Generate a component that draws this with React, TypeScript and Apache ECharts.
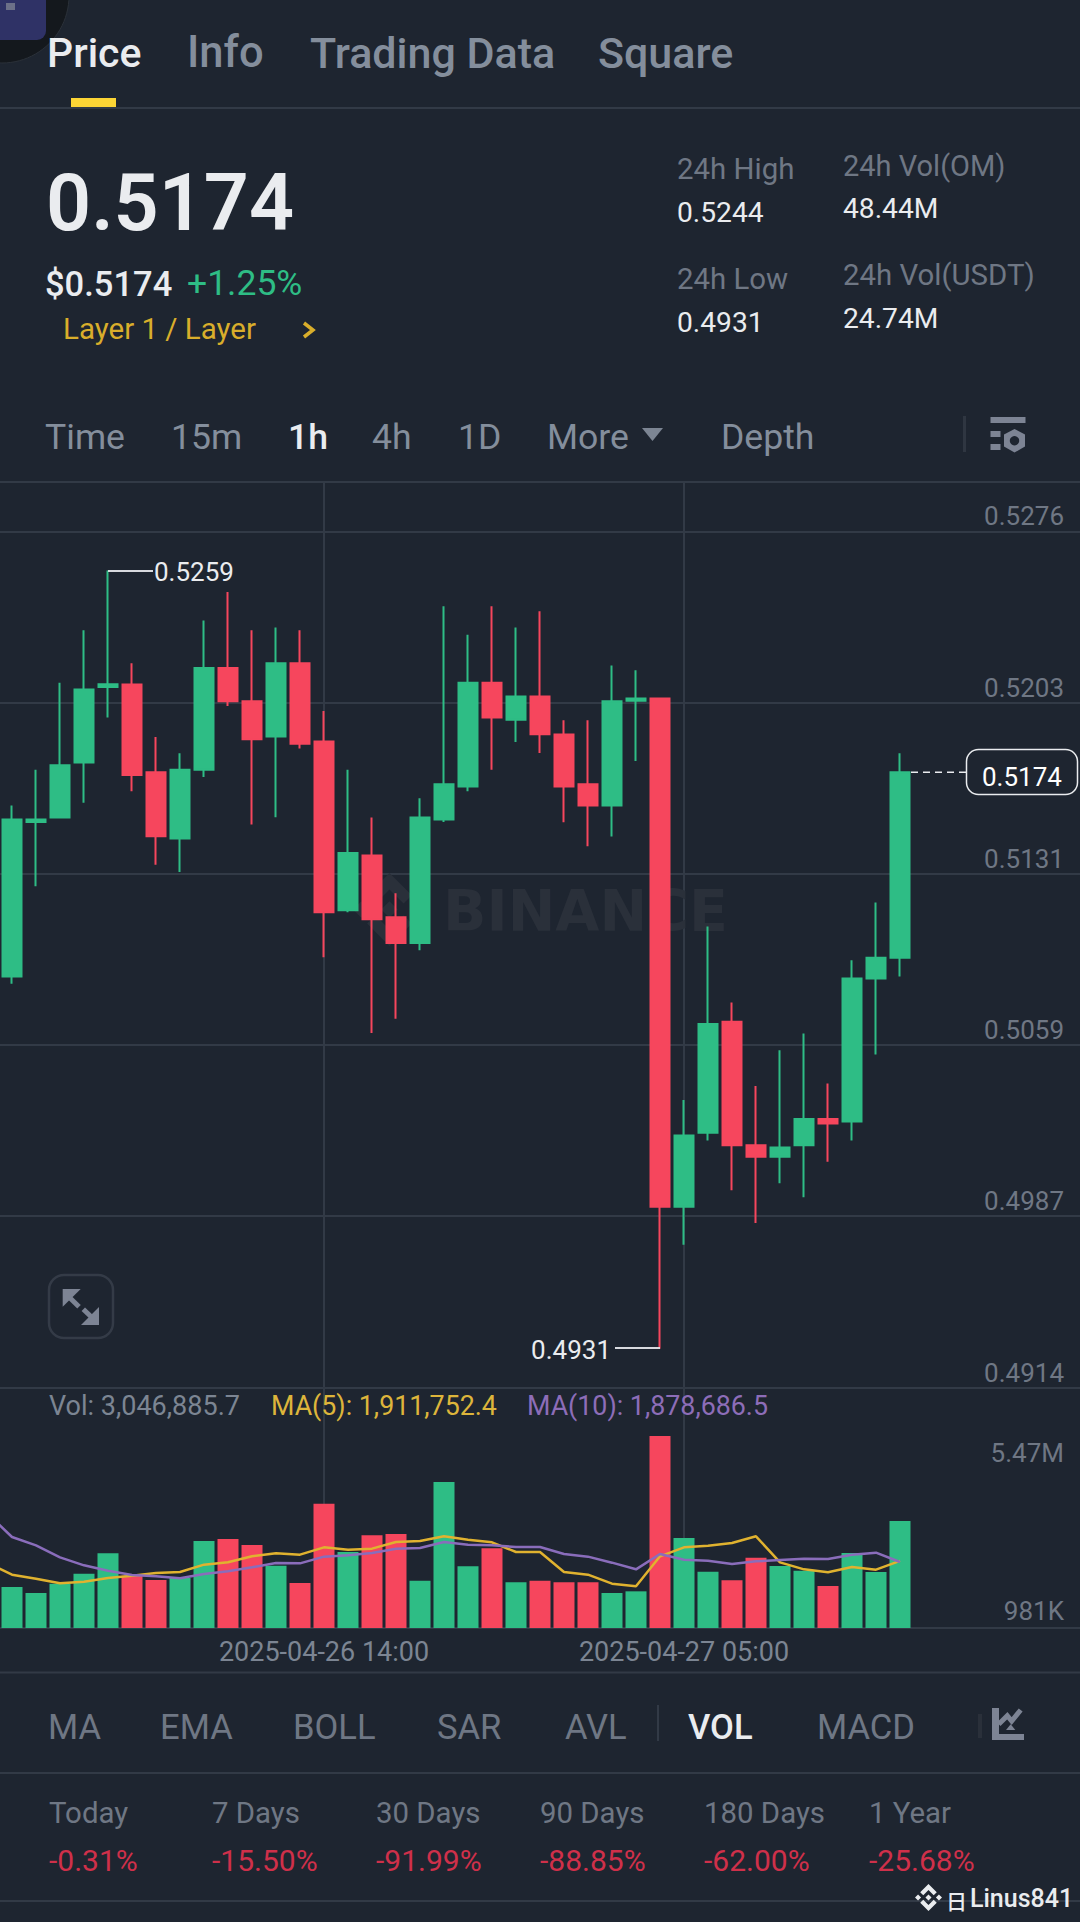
import React, { useEffect, useRef } from "react";
import * as echarts from "echarts";

const categories = [
  "2025-04-26 00:00","2025-04-26 01:00","2025-04-26 02:00","2025-04-26 03:00","2025-04-26 04:00","2025-04-26 05:00",
  "2025-04-26 06:00","2025-04-26 07:00","2025-04-26 08:00","2025-04-26 09:00","2025-04-26 10:00","2025-04-26 11:00",
  "2025-04-26 12:00","2025-04-26 13:00","2025-04-26 14:00","2025-04-26 15:00","2025-04-26 16:00","2025-04-26 17:00",
  "2025-04-26 18:00","2025-04-26 19:00","2025-04-26 20:00","2025-04-26 21:00","2025-04-26 22:00","2025-04-26 23:00",
  "2025-04-27 00:00","2025-04-27 01:00","2025-04-27 02:00","2025-04-27 03:00","2025-04-27 04:00","2025-04-27 05:00",
  "2025-04-27 06:00","2025-04-27 07:00","2025-04-27 08:00","2025-04-27 09:00","2025-04-27 10:00","2025-04-27 11:00",
  "2025-04-27 12:00","2025-04-27 13:00","2025-04-27 14:00","2025-04-27 15:00","2025-04-27 16:00","2025-04-27 17:00",
  "2025-04-27 18:00","2025-04-27 19:00","2025-04-27 20:00","2025-04-27 21:00",
];
const labelledTimes = ["2025-04-26 14:00", "2025-04-27 05:00"];

const opens = [0.50878,0.5153,0.51549,0.51781,0.521,0.52111,0.5174,0.51461,0.51751,0.5218,0.5204,0.51891,0.522,0.5187,0.51158,0.51389,0.51128,0.51019,0.51541,0.5168,0.52118,0.51962,0.5206,0.519,0.5169,0.516,0.52042,0.52052,0.49906,0.50218,0.50687,0.50166,0.50117,0.50166,0.50276,0.50266,0.50869,0.50957];
const closes = [0.51541,0.51541,0.5177,0.5209,0.52112,0.51729,0.5147,0.51751,0.5218,0.5204,0.5188,0.522,0.51861,0.51149,0.51399,0.5112,0.51019,0.51549,0.5169,0.52118,0.51971,0.5206,0.51901,0.5168,0.516,0.5204,0.52052,0.49906,0.50207,0.50677,0.50166,0.50117,0.50156,0.50276,0.50257,0.50869,0.50957,0.5174];
const lows = [0.50847,0.51259,0.51549,0.51612,0.51971,0.5166,0.5135,0.51319,0.5172,0.5202,0.5152,0.5155,0.51841,0.50959,0.51149,0.50639,0.507,0.50989,0.5153,0.5166,0.51751,0.51868,0.51821,0.51529,0.51428,0.51469,0.51788,0.49306,0.49745,0.50186,0.49976,0.49837,0.50005,0.49946,0.50096,0.50186,0.50549,0.50878];
const highs = [0.516,0.51751,0.52118,0.5234,0.52592,0.522,0.51889,0.5182,0.52381,0.52501,0.5234,0.52351,0.5234,0.51999,0.51751,0.51549,0.51229,0.5163,0.52441,0.52321,0.52441,0.52351,0.5242,0.5196,0.5196,0.52191,0.52171,0.52052,0.50357,0.51089,0.50768,0.50416,0.50567,0.50637,0.50426,0.50947,0.5119,0.5182];
const volumes = [1167600,996800,1262600,1547400,2126400,1490400,1367000,1424000,2477700,2534600,2363800,1775200,1281600,3540900,2164400,2639100,2677000,1348000,4157900,1756200,2268800,1300500,1348000,1300500,1300500,996800,1044200,5470000,2563100,1604300,1357500,2003000,1765700,1632800,1196100,2135900,1594800,3046885.7];
const ma5 = [1851100,1518900,1405000,1272100,1319500,1424000,1490400,1566300,1594800,1803700,1870100,2041000,2126400,2088500,2297300,2230900,2259300,2449200,2477700,2610600,2515600,2439700,2164400,2164400,1594800,1518900,1262600,1186600,2041000,2297300,2344800,2420700,2610600,1870100,1670800,1585300,1737200,1661300,1911752.4];
const ma10 = [3246600,2591600,2354300,2012500,1784700,1632800,1509400,1471400,1414500,1537900,1613800,1727700,1851100,1841600,2031500,2069500,2135900,2259300,2278300,2449200,2373300,2354300,2306800,2306800,2107400,2031500,1860600,1670800,2107400,1946100,1917600,1822700,1898600,1936600,1974500,1965100,2088500,2145400,1878686.5];

const priceTicks = [0.52757, 0.52034, 0.51311, 0.50588, 0.49866, 0.49142];
const volumeTicks = [981000, 5470000];
const highPoint = { index: 5, value: 0.5259 };
const lowPoint = { index: 28, value: 0.4931 };
const lastPrice = 0.5174;

const headerTabs = [["Price", 47, "#EAECEF", 500, 41], ["Info", 187, "#848E9C", 500, 43.5], ["Trading Data", 310, "#848E9C", 500, 43], ["Square", 598, "#848E9C", 500, 43]];
const timeTabs = [["Time", 45, "#848E9C", 400], ["15m", 171, "#848E9C", 400], ["1h", 288, "#EAECEF", 500], ["4h", 372, "#848E9C", 400], ["1D", 458, "#848E9C", 400], ["More", 547, "#848E9C", 400], ["Depth", 721, "#848E9C", 400]];
const stats = [["24h High", 677, 179, 29.4, "#6F7784"], ["0.5244", 677, 223, 28.2, "#EAECEF"], ["24h Vol(OM)", 843, 176, 29, "#6F7784"], ["48.44M", 843, 219, 28.2, "#EAECEF"], ["24h Low", 677, 289, 29.4, "#6F7784"], ["0.4931", 677, 333, 28.2, "#EAECEF"], ["24h Vol(USDT)", 843, 285, 29.4, "#6F7784"], ["24.74M", 843, 329, 28.2, "#EAECEF"]];
const indicatorTabs = [["MA", 48, "#6F7784", 400], ["EMA", 160, "#6F7784", 400], ["BOLL", 293, "#6F7784", 400], ["SAR", 437, "#6F7784", 400], ["AVL", 565, "#6F7784", 400], ["VOL", 688, "#EAECEF", 500], ["MACD", 817, "#6F7784", 400]];
const periodNames = ["Today", "7 Days", "30 Days", "90 Days", "180 Days", "1 Year"];
const periodChanges = ["-0.31%", "-15.50%", "-91.99%", "-88.85%", "-62.00%", "-25.68%"];
const periodX = [49, 212, 376, 540, 704, 869];

const BG = "#1E2530";
const LINE = "#323A46";
const UP = "#2EBD85";
const DOWN = "#F6465D";
const ICON = "#7D8494";
const FONT = "Roboto";
const LOGO = "M16.624 13.9202l2.7175 2.7154-7.353 7.353-7.353-7.352 2.7175-2.7164 4.6355 4.6595 4.6356-4.6595zm4.6366-4.6366L24 12l-2.7154 2.7164L18.5682 12l2.6924-2.7164zm-9.272.001l2.7163 2.6914-2.7164 2.7174v-.001L9.2721 12l2.7164-2.7154zm-9.2722-.001L5.4088 12l-2.6914 2.6924L0 12l2.7164-2.7164zM11.9885.0115l7.353 7.329-2.7174 2.7154-4.6356-4.6356-4.6355 4.6595-2.7174-2.7154 7.353-7.353z";

echarts.graphic.registerShape("logo", echarts.graphic.extendPath(LOGO, {}));

function txt(text: string, x: number, baseline: number, size: number, fill: string, weight: number = 400, family: string = FONT, z = 20) {
  return {
    type: "text", x, y: baseline - size * 0.355, z, silent: true,
    style: { text, fill, font: `${weight} ${size}px ${family}`, verticalAlign: "middle", align: "left" },
  };
}
function hline(y: number, x2 = 1080, width = 2, color = LINE) {
  return { type: "line", z: 20, silent: true, shape: { x1: 0, y1: y, x2, y2: y }, style: { stroke: color, lineWidth: width } };
}
function vline(x: number, y1: number, y2: number, color = LINE, width = 2) {
  return { type: "line", z: 20, silent: true, shape: { x1: x, y1, x2: x, y2 }, style: { stroke: color, lineWidth: width } };
}
function box(x: number, y: number, width: number, height: number, fill: string) {
  return { type: "rect", z: 20, shape: { x, y, width, height }, style: { fill } };
}
function poly(points: number[][], fill: string) {
  return { type: "polygon", z: 20, shape: { points }, style: { fill } };
}

function chrome(lastY: number): any[] {
  const els: any[] = [
    // avatar
    { type: "circle", z: 20, shape: { cx: 2, cy: -4, r: 67 }, style: { fill: "#14181D", stroke: "#2B3139", lineWidth: 1 } },
    { type: "rect", z: 20, shape: { x: -12, y: -12, width: 58, height: 52, r: 9 }, style: { fill: "#2F3266" } },
    box(6, 3, 9, 7, "#6C7088"),
    // header
    box(71, 98, 45, 9, "#FCD535"),
    hline(108),
    hline(482),
    hline(1672.5),
    hline(1773),
    hline(1901),
    txt("0.5174", 46, 231, 79, "#EAECEF", 600),
    txt("$0.5174", 45, 296, 34.5, "#EAECEF", 500),
    txt("+1.25%", 187, 296, 35.5, UP, 400),
    txt("Layer 1 / Layer", 63, 339.5, 29.5, "#D9AE2B", 400),
    { type: "polyline", z: 20, shape: { points: [[304, 323], [313, 330], [304, 337]] }, style: { stroke: "#D9AE2B", lineWidth: 3.5, fill: "none" } },
    // time row
    poly([[642, 428], [663, 428], [652.5, 441]], "#7C8593"),
    vline(964.5, 416, 452, "#2F3641", 3),
    box(990.5, 417, 35, 6, ICON),
    box(990.5, 431, 10, 6, ICON),
    box(990.5, 444, 10, 6, ICON),
    poly([[1014.5, 429], [1025, 434.5], [1025, 446.5], [1014.5, 452.5], [1004, 446.5], [1004, 434.5]], ICON),
    { type: "circle", z: 20, shape: { cx: 1014.5, cy: 440.7, r: 4.7 }, style: { fill: BG } },
    // expand button
    { type: "rect", z: 20, shape: { x: 49, y: 1275, width: 64, height: 63, r: 15 }, style: { fill: BG, stroke: "#343B47", lineWidth: 2.5 } },
    poly([[62.7, 1289], [80.7, 1289], [62.7, 1306.7]], ICON),
    { type: "line", z: 20, shape: { x1: 70, y1: 1298, x2: 79, y2: 1306.7 }, style: { stroke: ICON, lineWidth: 5 } },
    poly([[99, 1325], [99, 1307], [81, 1325]], ICON),
    { type: "line", z: 20, shape: { x1: 83.3, y1: 1309.3, x2: 91.7, y2: 1317.3 }, style: { stroke: ICON, lineWidth: 5 } },
    // last price tag
    { type: "line", z: 20, shape: { x1: 911, y1: lastY, x2: 966, y2: lastY }, style: { stroke: "#EAECEF", lineWidth: 1.5, lineDash: [7, 5] } },
    { type: "rect", z: 20, shape: { x: 966.5, y: 749.5, width: 111, height: 45, r: 12 }, style: { fill: BG, stroke: "#EAECEF", lineWidth: 1.5 } },
    txt("0.5174", 982, 786, 26, "#FFFFFF", 400),
    // legend
    txt("Vol: 3,046,885.7", 49, 1416, 27, "#7C8593"),
    txt("MA(5): 1,911,752.4", 271, 1416, 26.8, "#DDB53B"),
    txt("MA(10): 1,878,686.5", 527, 1416, 26.8, "#8D6DB8"),
    // indicator row
    vline(658, 1705, 1741),
    vline(980, 1714, 1738, "#2A303A", 4),
    box(992, 1708, 7, 32, ICON),
    box(992, 1734, 32, 6, ICON),
    { type: "polyline", z: 20, shape: { points: [[998.7, 1724.3], [1007.3, 1715.7], [1011.7, 1721], [1020.7, 1710]] }, style: { stroke: ICON, lineWidth: 5, fill: "none" } },
    poly([[1006, 1730], [1015.3, 1730], [1010.7, 1724.3]], ICON),
    // footer mark
    { type: "logo", z: 20, x: 915, y: 1884, scaleX: 27 / 24, scaleY: 27 / 24, style: { fill: "#EAECEF" } },
    txt("日", 946, 1907, 21, "#EAECEF", 500, "Noto Sans CJK SC"),
    txt("Linus841", 970, 1907, 25, "#EAECEF", 500),
    // watermark
    { type: "logo", z: 1, x: 353, y: 873, scaleX: 73 / 24, scaleY: 73 / 24, style: { fill: "#2A303A" } },
    txt("BINANCE", 443, 931, 57, "#2A303A", 700, "DejaVu Sans", 1),
  ];
  headerTabs.forEach(([s, x, c, w, size]: any) => els.push(txt(s, x, 68, size, c, w)));
  timeTabs.forEach(([s, x, c, w]: any) => els.push(txt(s, x, 450, 35.6, c, w)));
  indicatorTabs.forEach(([s, x, c, w]: any) => els.push(txt(s, x, 1739, 34.6, c, w)));
  stats.forEach(([s, x, y, size, c]: any) => els.push(txt(s, x, y, size, c)));
  periodNames.forEach((s, i) => els.push(txt(s, periodX[i], 1823.5, 29.4, "#6F7784")));
  periodChanges.forEach((s, i) => els.push(txt(s, periodX[i], 1871, 30, "#CF304A")));
  return els;
}

const isLabelled = (_: number, v: string) => labelledTimes.includes(v);

export default function App() {
  const ref = useRef<HTMLDivElement>(null);
  useEffect(() => {
    document.body.style.margin = "0";
    document.body.style.background = BG;
    const chart = echarts.init(ref.current!, undefined, { renderer: "svg" });
    const pad = (a: any[], lead: number) => {
      const out = Array(lead).fill("-").concat(a);
      while (out.length < categories.length) out.push("-");
      return out;
    };
    const candles = pad(opens.map((o, i) => [o, closes[i], lows[i], highs[i]]), 1);
    const bars = pad(volumes.map((v, i) => ({ value: v, itemStyle: { color: closes[i] >= opens[i] ? UP : DOWN } })), 1);
    const annotationLabel = { show: true, color: "#EAECEF", fontSize: 26, fontFamily: FONT };
    const option: any = {
      animation: false,
      backgroundColor: BG,
      grid: [
        { left: -24, top: 482, width: 1104, height: 905.7, outerBoundsMode: "none" },
        { left: -24, top: 1387.7, width: 1104, height: 240.3, outerBoundsMode: "none" },
      ],
      xAxis: [
        {
          type: "category", gridIndex: 0, data: categories, axisLine: { show: false }, axisTick: { show: false }, axisLabel: { show: false },
          splitLine: { show: true, interval: isLabelled, alignWithLabel: true, lineStyle: { color: LINE, width: 2 } },
        },
        {
          type: "category", gridIndex: 1, data: categories, axisLine: { show: true, lineStyle: { color: LINE, width: 2 } }, axisTick: { show: false },
          axisLabel: { show: true, interval: isLabelled, color: "#7C8593", fontSize: 27, fontFamily: FONT, margin: 10 },
          splitLine: { show: true, interval: isLabelled, alignWithLabel: true, lineStyle: { color: LINE, width: 2 } },
        },
      ],
      yAxis: [
        {
          type: "value", gridIndex: 0, position: "right", min: 0.49142, max: 0.529656, scale: true,
          axisLine: { show: false },
          axisTick: { show: false, customValues: priceTicks },
          splitLine: { show: true, lineStyle: { color: LINE, width: 2 } },
          axisLabel: {
            show: true, inside: true, customValues: priceTicks, margin: 16, color: "#6F7784", fontSize: 26, fontFamily: FONT,
            verticalAlign: "bottom", padding: [0, 0, 2, 0], formatter: (v: number) => v.toFixed(4), showMinLabel: true, showMaxLabel: true,
          },
        },
        {
          type: "value", gridIndex: 1, position: "right", min: 0, max: 6843000,
          axisLine: { show: false }, axisTick: { show: false, customValues: volumeTicks }, splitLine: { show: false },
          axisLabel: {
            show: true, inside: true, customValues: volumeTicks, margin: 16, color: "#6F7784", fontSize: 26, fontFamily: FONT,
            verticalAlign: "top", padding: [4, 0, 0, 0],
            formatter: (v: number) => (v >= 1e6 ? (v / 1e6).toFixed(2) + "M" : Math.round(v / 1000) + "K"),
          },
        },
      ],
      series: [
        {
          type: "candlestick", xAxisIndex: 0, yAxisIndex: 0, data: candles, barWidth: 19, silent: true,
          itemStyle: { color: UP, color0: DOWN, borderColor: UP, borderColor0: DOWN, borderWidth: 2 },
          markPoint: {
            silent: true,
            data: [
              {
                coord: [highPoint.index, highPoint.value], symbol: "rect", symbolSize: [45, 2], symbolOffset: [22.5, 0],
                itemStyle: { color: "#D8DADF" },
                label: { ...annotationLabel, position: "right", distance: 1, offset: [0, 1], formatter: highPoint.value.toFixed(4) },
              },
              {
                coord: [lowPoint.index, lowPoint.value], symbol: "rect", symbolSize: [45, 2], symbolOffset: [-22.5, 0],
                itemStyle: { color: "#D8DADF" },
                label: { ...annotationLabel, position: "left", distance: 4, offset: [0, 2], formatter: lowPoint.value.toFixed(4) },
              },
            ],
          },
        },
        { type: "bar", xAxisIndex: 1, yAxisIndex: 1, data: bars, barWidth: 21, silent: true },
        { type: "line", xAxisIndex: 1, yAxisIndex: 1, data: pad(ma5, 0), symbol: "none", silent: true, lineStyle: { color: "#E0B22F", width: 2.5 }, z: 5 },
        { type: "line", xAxisIndex: 1, yAxisIndex: 1, data: pad(ma10, 0), symbol: "none", silent: true, lineStyle: { color: "#8A6DBB", width: 2.5 }, z: 6 },
      ],
    };
    chart.setOption(option);
    const lastY = chart.convertToPixel({ yAxisIndex: 0 }, lastPrice) as number;
    chart.setOption({ graphic: { elements: chrome(lastY) } });
    return () => chart.dispose();
  }, []);
  return <div ref={ref} style={{ width: 1080, height: 1922 }} />;
}
